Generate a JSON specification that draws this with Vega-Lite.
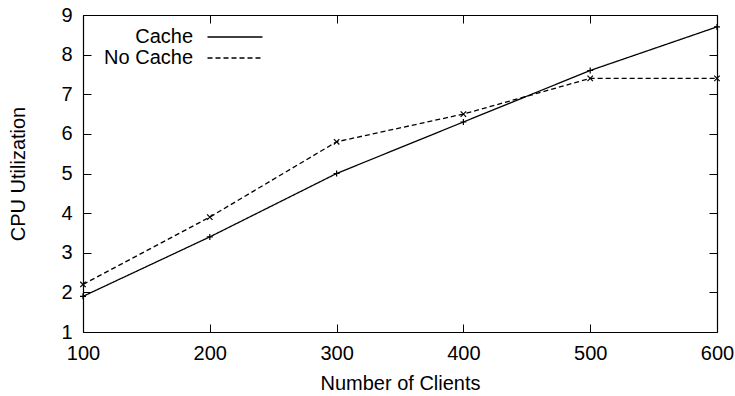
{
  "$schema": "https://vega.github.io/schema/vega-lite/v6.json",
  "width": 634,
  "height": 317,
  "autosize": "none",
  "padding": {"left": 83, "top": 15, "right": 18, "bottom": 64},
  "background": "white",
  "config": {
    "view": {"stroke": null},
    "font": "Liberation Sans",
    "axis": {
      "grid": false,
      "domainColor": "black",
      "domainWidth": 1.2,
      "tickColor": "black",
      "tickWidth": 1,
      "tickSize": -8,
      "labelColor": "black",
      "titleColor": "black",
      "labelFont": "Liberation Sans",
      "titleFont": "Liberation Sans",
      "labelFontSize": 20,
      "titleFontSize": 20,
      "titleFontWeight": "normal"
    }
  },
  "data": {
    "values": [
      {"clients": 100, "cpu": 1.9, "series": "Cache"},
      {"clients": 200, "cpu": 3.4, "series": "Cache"},
      {"clients": 300, "cpu": 5.0, "series": "Cache"},
      {"clients": 400, "cpu": 6.3, "series": "Cache"},
      {"clients": 500, "cpu": 7.6, "series": "Cache"},
      {"clients": 600, "cpu": 8.7, "series": "Cache"},
      {"clients": 100, "cpu": 2.2, "series": "No Cache"},
      {"clients": 200, "cpu": 3.9, "series": "No Cache"},
      {"clients": 300, "cpu": 5.8, "series": "No Cache"},
      {"clients": 400, "cpu": 6.5, "series": "No Cache"},
      {"clients": 500, "cpu": 7.4, "series": "No Cache"},
      {"clients": 600, "cpu": 7.4, "series": "No Cache"}
    ]
  },
  "layer": [
    {
      "mark": {"type": "line", "color": "black", "strokeWidth": 1.3},
      "encoding": {
        "x": {
          "field": "clients", "type": "quantitative",
          "scale": {"domain": [100, 600], "nice": false},
          "axis": {"orient": "bottom", "values": [100, 200, 300, 400, 500, 600], "title": "Number of Clients", "labelPadding": 19, "titlePadding": 10, "labelFlush": false}
        },
        "y": {
          "field": "cpu", "type": "quantitative",
          "scale": {"domain": [1, 9], "nice": false, "zero": false},
          "axis": {"orient": "left", "values": [1, 2, 3, 4, 5, 6, 7, 8, 9], "title": "CPU Utilization", "labelPadding": 19, "titlePadding": 32}
        },
        "strokeDash": {
          "field": "series", "type": "nominal",
          "scale": {"domain": ["Cache", "No Cache"], "range": [[1, 0], [5, 3]]},
          "legend": {
            "orient": "none",
            "legendX": 142,
            "legendY": 12,
            "direction": "vertical",
            "title": null,
            "symbolType": "M-10,0L10,0",
            "symbolSize": 30.25,
            "symbolStrokeWidth": 1.3,
            "labelAlign": "right",
            "labelOffset": -52,
            "labelFontSize": 20,
            "labelColor": "black",
            "rowPadding": 1
          }
        }
      }
    },
    {
      "transform": [{"filter": "datum.series === 'Cache'"}],
      "mark": {"type": "point", "shape": "M-1,0L1,0M0,-1L0,1", "filled": false, "color": "black", "strokeWidth": 1.2, "size": 36, "opacity": 1},
      "encoding": {
        "x": {
          "field": "clients", "type": "quantitative",
          "axis": {"orient": "top", "values": [100, 200, 300, 400, 500, 600], "labels": false, "title": null}
        },
        "y": {
          "field": "cpu", "type": "quantitative",
          "axis": {"orient": "right", "values": [1, 2, 3, 4, 5, 6, 7, 8, 9], "labels": false, "title": null}
        }
      }
    },
    {
      "transform": [{"filter": "datum.series === 'No Cache'"}],
      "mark": {"type": "point", "shape": "M-1,-1L1,1M-1,1L1,-1", "filled": false, "color": "black", "strokeWidth": 1.2, "size": 30, "opacity": 1},
      "encoding": {
        "x": {"field": "clients", "type": "quantitative", "axis": null},
        "y": {"field": "cpu", "type": "quantitative", "axis": null}
      }
    }
  ],
  "resolve": {"axis": {"x": "independent", "y": "independent"}}
}
